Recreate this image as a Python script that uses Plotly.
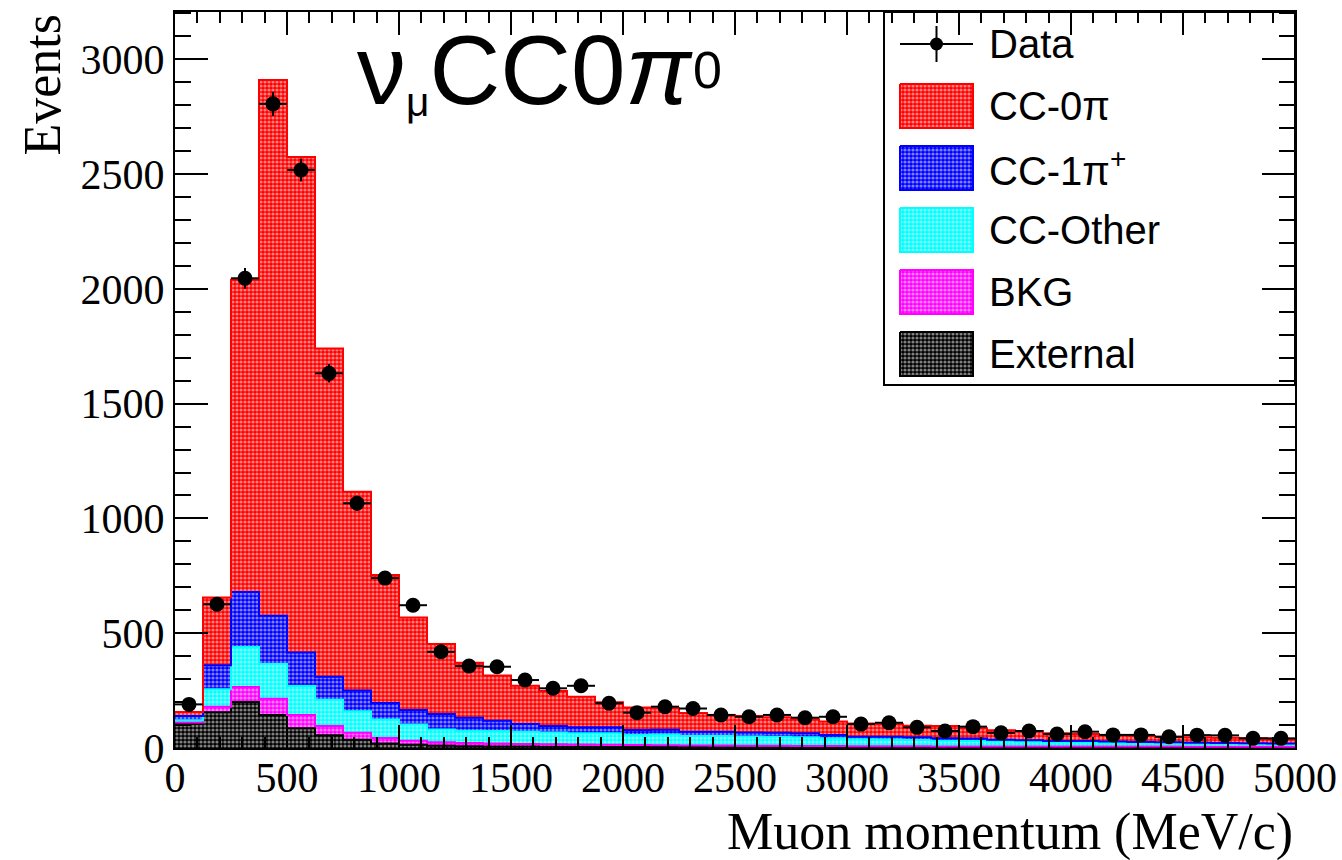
import numpy as np
import plotly.graph_objects as go

# ---------------- data ----------------
bin_edges = np.arange(0, 5001, 125)          # MeV/c, 40 bins
data_counts = [190, 626, 2046, 2806, 2518, 1632, 1066, 740, 622, 419,
               357, 354, 296, 260, 271, 195, 154, 180, 172, 144,
               136, 144, 132, 136, 104, 110, 90, 74, 93, 66,
               74, 61, 71, 57, 57, 49, 56, 55, 42, 42]
external = [104, 156, 200, 144, 86, 56, 36, 20, 14, 10,
            8, 7, 6, 5, 5, 4, 4, 4, 4, 3,
            3, 3, 3, 3, 3, 3, 3, 2, 2, 2,
            2, 2, 2, 2, 2, 2, 2, 2, 2, 2]
bkg = [7, 24, 66, 70, 58, 40, 30, 24, 18, 15,
       14, 13, 11, 11, 10, 10, 9, 8, 7, 8,
       7, 7, 6, 6, 5, 5, 5, 5, 5, 5,
       4, 4, 4, 4, 4, 4, 3, 3, 3, 3]
cc_other = [10, 76, 174, 152, 126, 114, 94, 80, 70, 56,
            53, 54, 54, 51, 49, 50, 44, 47, 41, 41,
            40, 39, 38, 33, 30, 29, 27, 25, 24, 21,
            21, 19, 18, 16, 15, 14, 14, 13, 12, 11]
cc_1pi = [18, 104, 240, 210, 146, 100, 90, 72, 64, 67,
          57, 45, 33, 29, 26, 26, 21, 21, 19, 19,
          17, 17, 17, 15, 11, 12, 12, 10, 10, 8,
          7, 6, 6, 6, 5, 5, 4, 4, 4, 4]
cc_0pi = [18, 296, 1360, 2334, 2158, 1430, 866, 558, 402, 305,
          239, 197, 167, 152, 133, 109, 98, 93, 81, 73,
          72, 68, 61, 58, 58, 54, 50, 54, 45, 41,
          40, 33, 31, 29, 26, 24, 24, 23, 21, 19]

series = [  # bottom to top
    ("External", external, "#000000"),
    ("BKG", bkg, "#ff00ff"),
    ("CC-Other", cc_other, "#00ffff"),
    ("CC-1π<sup>+</sup>", cc_1pi, "#0000ff"),
    ("CC-0π", cc_0pi, "#ff0000"),
]

centers = 0.5 * (bin_edges[:-1] + bin_edges[1:])
width = bin_edges[1] - bin_edges[0]

SERIF = "Liberation Serif, Times New Roman, serif"
SANS = "Liberation Sans, Arial, Helvetica, sans-serif"

def pat(color):
    # coloured field sprinkled with white dots (ROOT-like dense stipple)
    return dict(shape=".", fgcolor="white", bgcolor=color, size=4, solidity=0.5)

fig = go.Figure()

# stacked histogram fills
for name, vals, col in series:
    fig.add_trace(go.Bar(x=centers, y=vals, width=width, name=name,
                         marker=dict(color=col, pattern=pat(col), line=dict(width=0)),
                         showlegend=False))

# step outlines
cum = np.zeros(len(centers))
for name, vals, col in series:
    cum = cum + np.array(vals)
    fig.add_trace(go.Scatter(x=bin_edges, y=np.append(cum, cum[-1]), mode="lines",
                             line=dict(color=col, width=2, shape="hv"),
                             showlegend=False, hoverinfo="skip"))

# data points
fig.add_trace(go.Scatter(x=centers, y=data_counts, mode="markers",
                         marker=dict(color="black", size=15),
                         error_y=dict(type="data", array=np.sqrt(data_counts), color="black",
                                      thickness=2, width=0),
                         error_x=dict(type="constant", value=width / 2, color="black",
                                      thickness=2, width=0),
                         showlegend=False))

# ---------------- legend (pixel overlay axes) ----------------
PX0, PX1, PY0, PY1 = 175, 1295, 12, 748
leg_x0, leg_x1, leg_y0, leg_y1 = 884, 1295, 12, 385
sw_x0, sw_x1, text_x = 900, 973, 987
row0, drow, half = 44, 62, 22

fig.add_shape(type="rect", xref="x2", yref="y2", x0=leg_x0, x1=leg_x1, y0=leg_y0, y1=leg_y1,
              fillcolor="white", line=dict(color="black", width=2), layer="below")

# data entry
mx = 0.5 * (sw_x0 + sw_x1)
fig.add_trace(go.Scatter(x=[sw_x0, sw_x1, None, mx, mx], y=[row0, row0, None, row0 - 18, row0 + 18],
                         mode="lines", line=dict(color="black", width=2),
                         xaxis="x2", yaxis="y2", showlegend=False, hoverinfo="skip"))
fig.add_trace(go.Scatter(x=[mx], y=[row0], mode="markers", marker=dict(color="black", size=13),
                         xaxis="x2", yaxis="y2", showlegend=False, hoverinfo="skip"))
fig.add_annotation(xref="x2", yref="y2", x=text_x, y=row0, text="Data", showarrow=False,
                   xanchor="left", yanchor="middle", font=dict(family=SANS, size=40, color="black"))

for i, (name, vals, col) in enumerate(reversed(series)):
    cy = row0 + drow * (i + 1)
    fig.add_trace(go.Scatter(x=[sw_x0, sw_x1, sw_x1, sw_x0, sw_x0],
                             y=[cy - half, cy - half, cy + half, cy + half, cy - half],
                             mode="lines", fill="toself", fillcolor=col, fillpattern=pat(col),
                             line=dict(color=col, width=2), xaxis="x2", yaxis="y2",
                             showlegend=False, hoverinfo="skip"))
    fig.add_annotation(xref="x2", yref="y2", x=text_x, y=cy, text=name, showarrow=False,
                       xanchor="left", yanchor="middle", font=dict(family=SANS, size=40, color="black"))

# big label
fig.add_annotation(xref="x2", yref="y2", x=355, y=70,
                   text="ν<span style=\"font-size:58px\"><sub>μ</sub></span>CC0<i>π</i>",
                   showarrow=False, xanchor="left", yanchor="middle",
                   font=dict(family=SANS, size=98, color="black"))
fig.add_annotation(xref="x2", yref="y2", x=691, y=39, text="0",
                   showarrow=False, xanchor="left", yanchor="top",
                   font=dict(family=SANS, size=52, color="black"))

# axis titles
fig.add_annotation(xref="paper", yref="paper", x=1, y=0, yshift=-53, text="Muon momentum (MeV/c)",
                   showarrow=False, xanchor="right", yanchor="top",
                   font=dict(family=SERIF, size=52, color="black"))
fig.add_annotation(xref="paper", yref="paper", x=0, y=1, xshift=-164, yshift=0, text="Events",
                   showarrow=False, textangle=-90, xanchor="left", yanchor="top",
                   font=dict(family=SERIF, size=52, color="black"))

axis_common = dict(showgrid=False, zeroline=False, showline=True, linecolor="black", linewidth=2,
                   mirror="ticks", ticks="inside", tickcolor="black", tickwidth=2, automargin=False,
                   tickfont=dict(family=SERIF, size=42, color="black"))

fig.update_layout(
    width=1342, height=860,
    margin=dict(l=PX0, r=1342 - PX1, t=PY0, b=860 - PY1, autoexpand=False),
    paper_bgcolor="white", plot_bgcolor="white",
    barmode="stack", bargap=0,
    showlegend=False,
    xaxis=dict(range=[0, 5000], tickvals=list(range(0, 5001, 500)), ticklen=23,
               ticklabelstandoff=-8,
               minor=dict(ticks="inside", dtick=100, ticklen=11, tickcolor="black", tickwidth=2),
               **axis_common),
    yaxis=dict(range=[0, 3206], tickvals=list(range(0, 3001, 500)), ticklen=33,
               minor=dict(ticks="inside", dtick=100, ticklen=16, tickcolor="black", tickwidth=2),
               **axis_common),
    xaxis2=dict(range=[PX0, PX1], overlaying="x", anchor="y2", visible=False),
    yaxis2=dict(range=[PY1, PY0], overlaying="y", anchor="x2", visible=False),
)

fig.write_html("out.html")
